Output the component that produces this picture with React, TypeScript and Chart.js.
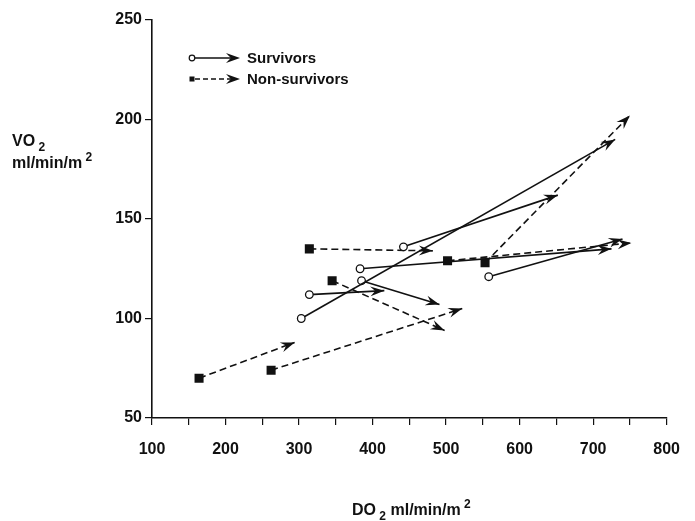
import React, { useEffect, useRef } from "react";
import { Chart, registerables } from "chart.js";

Chart.register(...registerables);

// Survivors (open circle start, solid arrow)
const survivorFromDO2 = [303, 314, 385, 383, 442, 558];
const survivorFromVO2 = [100, 112, 119, 125, 136, 121];
const survivorToDO2 = [730, 416, 491, 725, 652, 740];
const survivorToVO2 = [190, 114, 107, 135, 162, 140];

// Non-survivors (filled square start, dashed arrow)
const nonSurvivorFromDO2 = [164, 262, 345, 314, 502, 553];
const nonSurvivorFromVO2 = [70, 74, 119, 135, 129, 128];
const nonSurvivorToDO2 = [294, 522, 498, 482, 752, 750];
const nonSurvivorToVO2 = [88, 105, 94, 134, 138, 202];

const xTickValues = [100, 200, 300, 400, 500, 600, 700, 800];
const yTickValues = [50, 100, 150, 200, 250];
const legendLabels = ["Survivors", "Non-survivors"];

const INK = "#111";
const FONT = "'Liberation Sans', Arial, Helvetica, sans-serif";

function drawArrowHead(ctx: CanvasRenderingContext2D, x0: number, y0: number, x1: number, y1: number) {
  const ang = Math.atan2(y1 - y0, x1 - x0);
  const L = 14;
  const W = 5;
  ctx.save();
  ctx.translate(x1, y1);
  ctx.rotate(ang);
  ctx.beginPath();
  ctx.moveTo(0, 0);
  ctx.lineTo(-L, -W);
  ctx.lineTo(-L * 0.65, 0);
  ctx.lineTo(-L, W);
  ctx.closePath();
  ctx.fillStyle = INK;
  ctx.fill();
  ctx.restore();
}

const arrowPlugin = {
  id: "arrowHeads",
  afterDatasetsDraw(chart: any) {
    const ctx = chart.ctx as CanvasRenderingContext2D;
    chart.data.datasets.forEach((_ds: any, i: number) => {
      const meta = chart.getDatasetMeta(i);
      const a = meta.data[0];
      const b = meta.data[1];
      if (!a || !b) return;
      drawArrowHead(ctx, a.x, a.y, b.x, b.y);
    });
  },
};

function textWithScript(
  ctx: CanvasRenderingContext2D,
  parts: { t: string; s?: "sub" | "sup" }[],
  x: number,
  y: number,
  size: number
) {
  let cx = x;
  for (const p of parts) {
    const fs = p.s ? Math.round(size * 0.75) : size;
    ctx.font = `bold ${fs}px ${FONT}`;
    const dy = p.s === "sub" ? size * 0.3 : p.s === "sup" ? -size * 0.45 : 0;
    ctx.fillText(p.t, cx, y + dy);
    cx += ctx.measureText(p.t).width;
  }
  return cx;
}

const decorPlugin = {
  id: "decor",
  afterDraw(chart: any) {
    const ctx = chart.ctx as CanvasRenderingContext2D;
    const area = chart.chartArea;
    ctx.save();
    ctx.fillStyle = INK;
    ctx.strokeStyle = INK;
    ctx.textBaseline = "alphabetic";
    ctx.textAlign = "left";

    // Y axis title
    textWithScript(ctx, [{ t: "VO" }, { t: " 2", s: "sub" }], 12, 146, 16);
    textWithScript(ctx, [{ t: "ml/min/m" }, { t: " 2", s: "sup" }], 12, 168, 16);

    // X axis title
    textWithScript(ctx, [{ t: "DO" }, { t: " 2", s: "sub" }, { t: " ml/min/m" }, { t: " 2", s: "sup" }], 352, 515, 16);

    // Legend
    const lx = area.left + 40;
    const ly1 = area.top + 38;
    const ly2 = area.top + 59;
    ctx.lineWidth = 1.4;
    ctx.setLineDash([]);
    ctx.beginPath();
    ctx.moveTo(lx + 3, ly1);
    ctx.lineTo(lx + 42, ly1);
    ctx.stroke();
    ctx.beginPath();
    ctx.arc(lx, ly1, 2.8, 0, Math.PI * 2);
    ctx.fillStyle = "#fff";
    ctx.fill();
    ctx.lineWidth = 1.2;
    ctx.stroke();
    ctx.fillStyle = INK;
    drawArrowHead(ctx, lx, ly1, lx + 48, ly1);

    ctx.lineWidth = 1.4;
    ctx.setLineDash([5, 3]);
    ctx.beginPath();
    ctx.moveTo(lx + 3, ly2);
    ctx.lineTo(lx + 42, ly2);
    ctx.stroke();
    ctx.setLineDash([]);
    ctx.fillRect(lx - 2.5, ly2 - 2.5, 5, 5);
    drawArrowHead(ctx, lx, ly2, lx + 48, ly2);

    ctx.font = `bold 15px ${FONT}`;
    ctx.textBaseline = "middle";
    ctx.fillText(legendLabels[0], lx + 55, ly1 + 1);
    ctx.fillText(legendLabels[1], lx + 55, ly2 + 1);
    ctx.restore();
  },
};

export default function App() {
  const ref = useRef<HTMLCanvasElement | null>(null);

  useEffect(() => {
    if (!ref.current) return;
    const datasets: any[] = [];
    survivorFromDO2.forEach((x0, i) => {
      datasets.push({
        label: legendLabels[0],
        data: [
          { x: x0, y: survivorFromVO2[i] },
          { x: survivorToDO2[i], y: survivorToVO2[i] },
        ],
        showLine: true,
        borderColor: INK,
        borderWidth: 1.6,
        pointStyle: "circle",
        pointRadius: [3.8, 0],
        pointBorderWidth: 1.3,
        pointBackgroundColor: "#fff",
        pointBorderColor: INK,
      });
    });
    nonSurvivorFromDO2.forEach((x0, i) => {
      datasets.push({
        label: legendLabels[1],
        data: [
          { x: x0, y: nonSurvivorFromVO2[i] },
          { x: nonSurvivorToDO2[i], y: nonSurvivorToVO2[i] },
        ],
        showLine: true,
        borderColor: INK,
        borderWidth: 1.6,
        borderDash: [7, 4],
        pointStyle: "rect",
        pointRadius: [6.4, 0],
        pointBorderWidth: 0,
        pointBackgroundColor: INK,
        pointBorderColor: INK,
      });
    });

    const chart = new Chart(ref.current, {
      type: "scatter",
      data: { datasets },
      options: {
        animation: false,
        responsive: false,
        layout: { padding: { left: 0, top: 20, right: 16, bottom: 0 } },
        plugins: { legend: { display: false }, tooltip: { enabled: false } },
        scales: {
          x: {
            type: "linear",
            min: 100,
            max: 800,
            afterFit: (s: any) => {
              s.height = 103;
            },
            afterBuildTicks: (s: any) => {
              const t: any[] = [];
              for (let v = xTickValues[0]; v <= xTickValues[xTickValues.length - 1]; v += 50) t.push({ value: v });
              s.ticks = t;
            },
            ticks: {
              callback: (v: any) => (xTickValues.includes(Number(v)) ? String(v) : ""),
              color: INK,
              padding: 15,
              maxRotation: 0,
              autoSkip: false,
              font: { family: FONT, size: 16, weight: "bold" },
            },
            grid: { drawOnChartArea: false, color: INK, tickLength: 7, lineWidth: 1.2 },
            border: { color: INK, width: 1.6 },
          },
          y: {
            type: "linear",
            min: 50,
            max: 250,
            afterFit: (s: any) => {
              s.width = 152;
            },
            afterBuildTicks: (s: any) => {
              s.ticks = yTickValues.map((v) => ({ value: v }));
            },
            ticks: {
              color: INK,
              padding: 3,
              font: { family: FONT, size: 16, weight: "bold" },
            },
            grid: { drawOnChartArea: false, color: INK, tickLength: 7, lineWidth: 1.2 },
            border: { color: INK, width: 1.6 },
          },
        },
      },
      plugins: [arrowPlugin, decorPlugin],
    });
    return () => chart.destroy();
  }, []);

  return (
    <div style={{ position: "absolute", left: 0, top: 0, width: 695, height: 521, background: "#fff" }}>
      <canvas ref={ref} width={695} height={521} style={{ display: "block" }} />
    </div>
  );
}
